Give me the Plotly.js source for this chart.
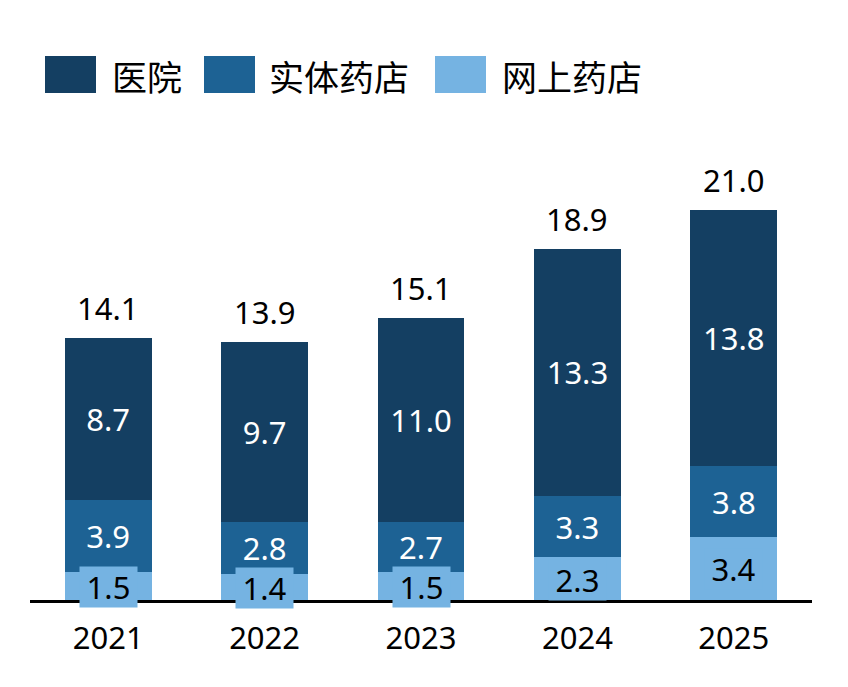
<!DOCTYPE html>
<html>
<head>
<meta charset="utf-8">
<script src="https://cdn.plot.ly/plotly-3.0.1.min.js"></script>
<style>
  html, body { margin: 0; padding: 0; background: #fff; }
  #chart { width: 848px; height: 687px; }
</style>
</head>
<body>
<div id="chart"></div>
<script>
/* ── data ── */
const years    = ['2021', '2022', '2023', '2024', '2025'];
const hospital = [8.7, 9.7, 11.0, 13.3, 13.8];
const retail   = [3.9, 2.8, 2.7, 3.3, 3.8];
const online   = [1.5, 1.4, 1.5, 2.3, 3.4];
const totals   = [14.1, 13.9, 15.1, 18.9, 21.0];
const seriesNames = ['医院', '实体药店', '网上药店'];

const COLORS = ['#143f62', '#1d6294', '#75b3e2'];
const FONT = 'Noto Sans, Open Sans, Noto Sans CJK SC, sans-serif';
const CJK  = 'Noto Sans CJK SC, Noto Sans, sans-serif';

const xs = years.map((_, i) => i);

// plot area in pixels: left 30, right 812, top 154, bottom 600
const W = 848, H = 687, L = 30, R = 36, T = 154, B = 87;
const px2x = p => (p - L) / (W - L - R);
const px2y = p => (H - B - p) / (H - T - B);

const traces = [
  {
    type: 'bar', x: xs, y: online, name: seriesNames[2],
    marker: { color: COLORS[2] }, hoverinfo: 'skip',
  },
  {
    type: 'bar', x: xs, y: retail, name: seriesNames[1],
    marker: { color: COLORS[1] },
    text: retail.map(v => v.toFixed(1)), textposition: 'inside',
    insidetextanchor: 'middle', textangle: 0, constraintext: 'none',
    textfont: { color: '#ffffff', size: 31, family: FONT }, hoverinfo: 'skip',
  },
  {
    type: 'bar', x: xs, y: hospital, name: seriesNames[0],
    marker: { color: COLORS[0] },
    text: hospital.map(v => v.toFixed(1)), textposition: 'inside',
    insidetextanchor: 'middle', textangle: 0, constraintext: 'none',
    textfont: { color: '#ffffff', size: 31, family: FONT }, hoverinfo: 'skip',
  },
];

const annotations = [];

// labels on the light segments (with a box the colour of the bar)
online.forEach((v, i) => {
  annotations.push({
    x: i, y: v / 2, xref: 'x', yref: 'y', showarrow: false,
    text: v.toFixed(1), bgcolor: COLORS[2], borderpad: 0,
    width: 57, height: 40, yshift: -1,
    font: { color: '#000000', size: 31, family: FONT },
  });
});

// totals above each bar
totals.forEach((t, i) => {
  annotations.push({
    x: i, y: online[i] + retail[i] + hospital[i], xref: 'x', yref: 'y',
    showarrow: false, yanchor: 'bottom', yshift: 7,
    text: t.toFixed(1),
    font: { color: '#000000', size: 31, family: FONT },
  });
});

// legend drawn as swatches + text
const swatchLeft = [45, 204, 435];
const textLeft   = [110, 267, 500];
const shapes = [];
seriesNames.forEach((name, k) => {
  shapes.push({
    type: 'rect', xref: 'paper', yref: 'paper', line: { width: 0 },
    fillcolor: COLORS[k],
    x0: px2x(swatchLeft[k]), x1: px2x(swatchLeft[k] + 51),
    y0: px2y(93), y1: px2y(56),
  });
  annotations.push({
    xref: 'paper', yref: 'paper', x: px2x(textLeft[k]), y: px2y(75),
    xanchor: 'left', yanchor: 'middle', showarrow: false,
    text: name, font: { color: '#000000', size: 35, family: CJK },
  });
});

const layout = {
  width: W, height: H,
  margin: { l: L, r: R, t: T, b: B },
  paper_bgcolor: '#ffffff',
  plot_bgcolor: '#ffffff',
  barmode: 'stack',
  bargap: 0.444,
  showlegend: false,
  xaxis: {
    range: [-0.5, 4.5],
    tickvals: xs, ticktext: years,
    showline: true, linecolor: '#000000', linewidth: 3,
    showgrid: false, zeroline: false, ticks: '',
    ticklabelstandoff: 9,
    tickfont: { color: '#000000', size: 31, family: FONT },
  },
  yaxis: {
    range: [0, 24],
    visible: false, showgrid: false, zeroline: false,
  },
  annotations: annotations,
  shapes: shapes,
};

Plotly.newPlot('chart', traces, layout, { displayModeBar: false, staticPlot: true });
</script>
</body>
</html>
